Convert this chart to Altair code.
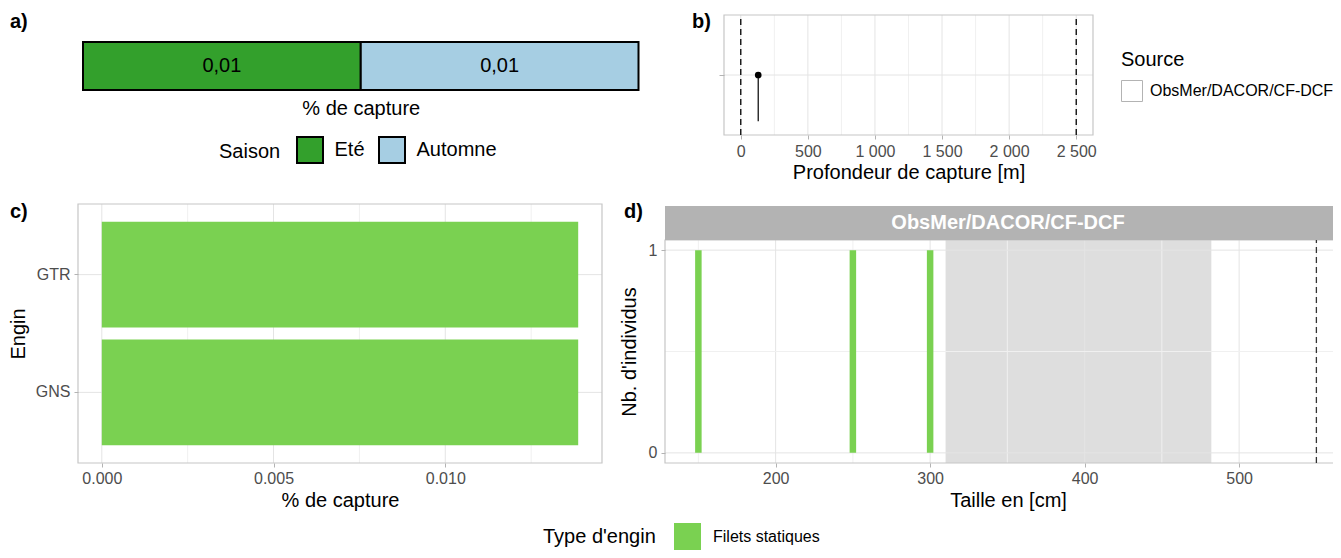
import altair as alt
import pandas as pd

# ---------------- data ----------------
saisons = ["Eté", "Automne"]
saison_pct = [0.01, 0.01]
saison_labels = ["0,01", "0,01"]
saison_colors = ["#33a02c", "#a6cee3"]

source = ["ObsMer/DACOR/CF-DCF"]
profondeur = [130]
profondeur_niveau = [0.5]
profondeur_bas = [0.115]
profondeur_limites = [0, 2500]
profondeur_ticks = [0, 500, 1000, 1500, 2000, 2500]
profondeur_minor = [250, 750, 1250, 1750, 2250]

engins = ["GTR", "GNS"]
engin_pct = [0.01387, 0.01387]
engin_type = ["Filets statiques", "Filets statiques"]
pct_ticks = [0.0, 0.005, 0.010]
pct_minor = [0.0025, 0.0075, 0.0125]

tailles = [150, 250, 300]
taille_n = [1, 1, 1]
taille_zone = [310, 482]
taille_max = [550]
taille_ticks = [200, 300, 400, 500]
taille_minor = [150, 250, 350, 450, 550]
n_ticks = [0, 1]
n_minor = [0.5]

panel_tags = ["a)", "b)", "c)", "d)"]

# ---------------- layout / style ----------------
FONT = "Liberation Sans"
W, H = 1325, 542
M = 8


def px(v):
    return v - M


GRID_MAJ = "#e4e4e4"
GRID_MIN = "#f0f0f0"
BORDER = "#c6c6c6"
TXT = "#4d4d4d"
GREEN = "#7AD151"
TICK = "#b3b3b3"

one = pd.DataFrame({"k": [0]})


def bottom_axis(title, border_y, values=None, fmt=None, expr=None, labels=True, ticks=True,
                label_dy=15, title_dy=37):
    kw = dict(title=title, orient="bottom", offset=px(border_y) - H, grid=False, domain=False,
              ticks=ticks, tickSize=4, tickColor=TICK, tickWidth=1,
              labels=labels, labelFont=FONT, labelFontSize=16, labelColor=TXT,
              labelBaseline="middle", labelPadding=label_dy - 4,
              titleFont=FONT, titleFontSize=20, titleFontWeight="normal", titleColor="black",
              titleY=title_dy, titleBaseline="middle", zindex=2)
    if values is not None:
        kw["values"] = values
    if fmt is not None:
        kw["format"] = fmt
    if expr is not None:
        kw["labelExpr"] = expr
    return alt.Axis(**kw)


def left_axis(title, border_x, values, fmt=None, labels=True, title_dx=60, label_pad=4, tick=4):
    kw = dict(orient="left", offset=-px(border_x), grid=False, domain=False,
              ticks=True, tickSize=tick, tickColor=TICK, tickWidth=1, values=values,
              labels=labels, labelFont=FONT, labelFontSize=16, labelColor=TXT,
              labelPadding=label_pad, labelBaseline="middle",
              titleFont=FONT, titleFontSize=20, titleFontWeight="normal", titleColor="black",
              titleX=-title_dx, titleBaseline="middle", titleAngle=270, zindex=2)
    kw["title"] = title
    if fmt is not None:
        kw["format"] = fmt
    return alt.Axis(**kw)


# ================= panel a =================
xa = alt.Scale(domain=[0, sum(saison_pct)], range=[px(83), px(638.5)], nice=False, zero=False)
ya = alt.Scale(domain=["a"], range=[px(42), px(90)], paddingInner=0, paddingOuter=0)
ax_xa = bottom_axis("% de capture", 90, labels=False, ticks=False, title_dy=18)
df_a = pd.DataFrame({"saison": saisons, "pct": saison_pct, "lab": saison_labels,
                     "ordre": list(range(len(saisons))), "row": ["a"] * len(saisons)})
base_a = (alt.Chart(df_a)
          .transform_stack(stack="pct", groupby=["row"], as_=["x0", "x1"],
                           sort=[alt.SortField("ordre", order="ascending")])
          .transform_calculate(mid="(datum.x0 + datum.x1) / 2"))
bars_a = base_a.mark_bar(stroke="black", strokeWidth=2).encode(
    x=alt.X("x0:Q", scale=xa, axis=ax_xa),
    x2="x1:Q",
    y=alt.Y("row:N", scale=ya, axis=None),
    fill=alt.Fill("saison:N", scale=alt.Scale(domain=saisons, range=saison_colors),
                  legend=alt.Legend(title="Saison", orient="none", legendX=px(219), legendY=px(136),
                                    direction="horizontal", titleOrient="left", titleAnchor="middle",
                                    titleFont=FONT, titleFontSize=20, titleFontWeight="normal",
                                    titleColor="black", titlePadding=15,
                                    labelFont=FONT, labelFontSize=20, labelColor="black",
                                    labelOffset=10.5, columnPadding=10, padding=0,
                                    symbolType="square", symbolSize=676, symbolStrokeColor="black",
                                    symbolStrokeWidth=2, symbolOpacity=1)),
    order=alt.Order("ordre:Q"),
)
text_a = base_a.mark_text(font=FONT, fontSize=20, color="black").encode(
    x=alt.X("mid:Q", scale=xa, axis=ax_xa),
    y=alt.Y("row:N", scale=ya, axis=None),
    text="lab:N",
)
panel_a = alt.layer(bars_a, text_a)

# ================= panel b =================
xb_dom = [-125, 2625]
xb = alt.Scale(domain=xb_dom, range=[px(724), px(1093)], nice=False, zero=False)
yb = alt.Scale(domain=[0, 1], range=[px(135), px(15)], nice=False, zero=False)
ax_xb = bottom_axis("Profondeur de capture [m]", 135, values=profondeur_ticks,
                    expr="replace(format(datum.value, ','), ',', ' ')", label_dy=16)
ax_yb = left_axis(None, 724, profondeur_niveau, labels=False, tick=5)
df_b = pd.DataFrame({"src": source, "prof": profondeur, "lvl": profondeur_niveau, "bas": profondeur_bas})


def xb_enc(f):
    return alt.X(f, scale=xb, axis=ax_xb)


def yb_enc(f):
    return alt.Y(f, scale=yb, axis=ax_yb)


grid_b_min = alt.Chart(pd.DataFrame({"v": profondeur_minor})).mark_rule(color=GRID_MIN, strokeWidth=1).encode(
    x=xb_enc("v:Q"), y=alt.YDatum(0, scale=yb, axis=ax_yb), y2=alt.Y2Datum(1))
grid_b_maj = alt.Chart(pd.DataFrame({"v": profondeur_ticks})).mark_rule(color=GRID_MAJ, strokeWidth=1).encode(
    x=xb_enc("v:Q"), y=alt.YDatum(0, scale=yb, axis=ax_yb), y2=alt.Y2Datum(1))
grid_b_h = alt.Chart(pd.DataFrame({"v": profondeur_niveau})).mark_rule(color=GRID_MAJ, strokeWidth=1).encode(
    y=yb_enc("v:Q"), x=alt.XDatum(xb_dom[0], scale=xb, axis=ax_xb), x2=alt.X2Datum(xb_dom[1]))
border_b = alt.Chart(one).mark_rect(fillOpacity=0, stroke=BORDER, strokeWidth=1.2).encode(
    x=alt.XDatum(xb_dom[0], scale=xb, axis=ax_xb), x2=alt.X2Datum(xb_dom[1]),
    y=alt.YDatum(0, scale=yb, axis=ax_yb), y2=alt.Y2Datum(1))
dash_b = alt.Chart(pd.DataFrame({"v": profondeur_limites})).mark_rule(
    color="black", strokeWidth=1.3, strokeDash=[6, 4]).encode(
    x=xb_enc("v:Q"), y=alt.YDatum(0, scale=yb, axis=ax_yb), y2=alt.Y2Datum(1))
legend_b = alt.Chart(df_b).mark_point(shape="square", filled=True, size=1, opacity=1,
                                      stroke="#b3b3b3", strokeWidth=1).encode(
    x=xb_enc("prof:Q"),
    y=yb_enc("lvl:Q"),
    fill=alt.Fill("src:N", scale=alt.Scale(domain=source, range=["white"]),
                  legend=alt.Legend(title="Source", orient="none", legendX=px(1121), legendY=px(50),
                                    direction="vertical", titleFont=FONT, titleFontSize=20,
                                    titleFontWeight="normal", titleColor="black", titlePadding=10,
                                    labelFont=FONT, labelFontSize=16, labelColor="black", labelLimit=400,
                                    labelOffset=7, padding=0, symbolType="square", symbolSize=441,
                                    symbolStrokeColor="#b3b3b3", symbolStrokeWidth=1,
                                    symbolFillColor="white", symbolOpacity=1)),
)
stem_b = alt.Chart(df_b).mark_rule(color="black", strokeWidth=1.2).encode(
    x=xb_enc("prof:Q"), y=yb_enc("lvl:Q"), y2="bas:Q")
point_b = alt.Chart(df_b).mark_point(filled=True, size=45, color="black", opacity=1).encode(
    x=xb_enc("prof:Q"), y=yb_enc("lvl:Q"))
panel_b = alt.layer(grid_b_min, grid_b_maj, grid_b_h, border_b, dash_b, legend_b, stem_b, point_b)

# ================= panel c =================
xc_dom = [-0.000693, 0.014563]
xc = alt.Scale(domain=xc_dom, range=[px(78), px(602)], nice=False, zero=False)
yc = alt.Scale(domain=engins, range=[px(204), px(463)], paddingInner=0.1, paddingOuter=0.15)
ax_xc = bottom_axis("% de capture", 463, values=pct_ticks, fmt=".3f")
ax_yc = left_axis("Engin", 78, engins, title_dx=60)
df_c = pd.DataFrame({"engin": engins, "pct": engin_pct, "type": engin_type})


def xc_enc(f):
    return alt.X(f, scale=xc, axis=ax_xc)


grid_c_min = alt.Chart(pd.DataFrame({"v": pct_minor})).mark_rule(color=GRID_MIN, strokeWidth=1).encode(
    x=xc_enc("v:Q"), y=alt.value(px(204)), y2=alt.value(px(463)))
grid_c_maj = alt.Chart(pd.DataFrame({"v": pct_ticks})).mark_rule(color=GRID_MAJ, strokeWidth=1).encode(
    x=xc_enc("v:Q"), y=alt.value(px(204)), y2=alt.value(px(463)))
grid_c_h = alt.Chart(pd.DataFrame({"engin": engins})).mark_rule(color=GRID_MAJ, strokeWidth=1).encode(
    y=alt.Y("engin:N", scale=yc, sort=engins, axis=ax_yc),
    x=alt.XDatum(xc_dom[0], scale=xc, axis=ax_xc), x2=alt.X2Datum(xc_dom[1]))
border_c = alt.Chart(one).mark_rect(fillOpacity=0, stroke=BORDER, strokeWidth=1.2).encode(
    x=alt.XDatum(xc_dom[0], scale=xc, axis=ax_xc), x2=alt.X2Datum(xc_dom[1]),
    y=alt.value(px(204)), y2=alt.value(px(463)))
bars_c = alt.Chart(df_c).mark_bar().encode(
    x=xc_enc("pct:Q"),
    x2=alt.X2Datum(0),
    y=alt.Y("engin:N", scale=yc, sort=engins, axis=ax_yc),
    color=alt.Color("type:N", scale=alt.Scale(domain=["Filets statiques"], range=[GREEN]),
                    legend=alt.Legend(title="Type d'engin", orient="none", legendX=px(543), legendY=px(523),
                                      direction="horizontal", titleOrient="left", titleAnchor="middle",
                                      titleFont=FONT, titleFontSize=20, titleFontWeight="normal",
                                      titleColor="black", titlePadding=18,
                                      labelFont=FONT, labelFontSize=16, labelColor="black",
                                      labelOffset=12, padding=0, symbolType="square", symbolSize=729,
                                      symbolStrokeWidth=0, symbolOpacity=1)),
)
panel_c = alt.layer(grid_c_min, grid_c_maj, grid_c_h, border_c, bars_c)

# ================= panel d =================
xd_dom = [128.4, 572.4]
yd_dom = [-0.05, 1.05]
xd = alt.Scale(domain=xd_dom, range=[px(665), px(1351)], nice=False, zero=False)
yd = alt.Scale(domain=yd_dom, range=[px(463), px(240)], nice=False, zero=False)
ax_xd = bottom_axis("Taille en [cm]", 463, values=taille_ticks)
ax_yd = left_axis("Nb. d'individus", 665, n_ticks, fmt="d", title_dx=36)
df_d = pd.DataFrame({"taille": tailles, "n": taille_n, "type": ["Filets statiques"] * len(tailles)})


def xd_enc(f):
    return alt.X(f, scale=xd, axis=ax_xd)


def yd_enc(f):
    return alt.Y(f, scale=yd, axis=ax_yd)


def yd_full():
    return dict(y=alt.YDatum(yd_dom[0], scale=yd, axis=ax_yd), y2=alt.Y2Datum(yd_dom[1]))


def xd_full():
    return dict(x=alt.XDatum(xd_dom[0], scale=xd, axis=ax_xd), x2=alt.X2Datum(xd_dom[1]))


zone_d = alt.Chart(pd.DataFrame({"lo": [taille_zone[0]], "hi": [taille_zone[1]]})).mark_rect(
    color="#dedede").encode(x=xd_enc("lo:Q"), x2="hi:Q", **yd_full())
grid_d_min = alt.Chart(pd.DataFrame({"v": taille_minor})).mark_rule(color=GRID_MIN, strokeWidth=1).encode(
    x=xd_enc("v:Q"), **yd_full())
grid_d_maj = alt.Chart(pd.DataFrame({"v": taille_ticks})).mark_rule(color=GRID_MAJ, strokeWidth=1).encode(
    x=xd_enc("v:Q"), **yd_full())
grid_d_hmin = alt.Chart(pd.DataFrame({"v": n_minor})).mark_rule(color=GRID_MIN, strokeWidth=1).encode(
    y=yd_enc("v:Q"), **xd_full())
grid_d_hmaj = alt.Chart(pd.DataFrame({"v": n_ticks})).mark_rule(color=GRID_MAJ, strokeWidth=1).encode(
    y=yd_enc("v:Q"), **xd_full())
border_d = alt.Chart(one).mark_rect(fillOpacity=0, stroke=BORDER, strokeWidth=1.2).encode(
    **xd_full(), **yd_full())
bars_d = alt.Chart(df_d).mark_rule(strokeWidth=6.5, strokeCap="butt").encode(
    x=xd_enc("taille:Q"),
    y=yd_enc("n:Q"),
    y2=alt.Y2Datum(0),
    color=alt.Color("type:N", scale=alt.Scale(domain=["Filets statiques"], range=[GREEN]), legend=None),
)
dash_d = alt.Chart(pd.DataFrame({"v": taille_max})).mark_rule(
    color="#333333", strokeWidth=1.3, strokeDash=[6, 4]).encode(x=xd_enc("v:Q"), **yd_full())
strip_d = alt.Chart(one).mark_rect(color="#b3b3b3").encode(
    **xd_full(), y=alt.value(px(206)), y2=alt.value(px(240)))
strip_txt = alt.Chart(pd.DataFrame({"s": source})).mark_text(
    font=FONT, fontSize=20, fontWeight="bold", color="white", baseline="middle").encode(
    x=alt.XDatum((xd_dom[0] + xd_dom[1]) / 2, scale=xd, axis=ax_xd),
    y=alt.value(px(223)), text="s:N")
panel_d = alt.layer(zone_d, grid_d_min, grid_d_maj, grid_d_hmin, grid_d_hmaj, border_d,
                    bars_d, dash_d, strip_d, strip_txt)

# ================= panel tags =================
tag_pos = [(10, 22), (692, 22), (10, 212), (624, 212)]
tags = []
for t, (tx, ty) in zip(panel_tags, tag_pos):
    tags.append(alt.Chart(pd.DataFrame({"t": [t]})).mark_text(
        font=FONT, fontSize=20, fontWeight="bold", color="black", align="left", baseline="middle").encode(
        x=alt.value(px(tx)), y=alt.value(px(ty)), text="t:N"))

chart = (alt.layer(panel_a, panel_b, panel_c, panel_d, *tags)
         .resolve_scale(x="independent", y="independent", color="independent", fill="independent")
         .resolve_axis(x="independent", y="independent")
         .resolve_legend(color="independent", fill="independent")
         .properties(width=W, height=H, padding=0, autosize=alt.AutoSizeParams(type="none"))
         .configure(font=FONT)
         .configure_view(stroke=None))

chart.save("out.html", embed_options={"renderer": "svg", "actions": False})
